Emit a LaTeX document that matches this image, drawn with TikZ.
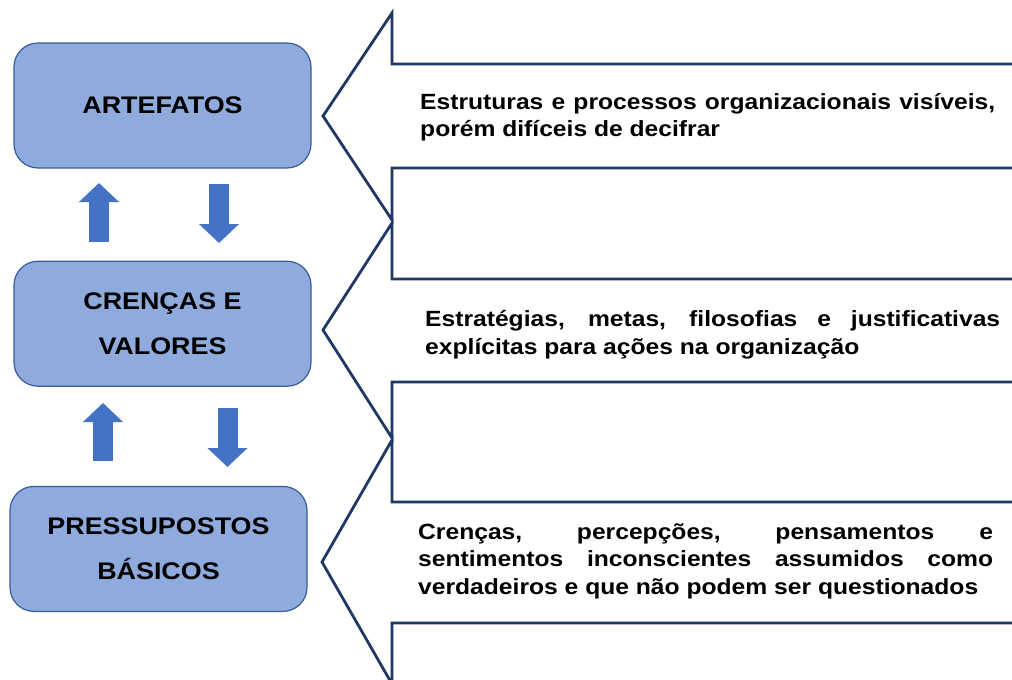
\documentclass[tikz,border=0pt]{standalone}
\usepackage{fontspec}
\setmainfont{Liberation Sans}[FakeStretch=1.12]
\usetikzlibrary{positioning,arrows.meta}
\definecolor{boxfill}{HTML}{8FAADC}
\definecolor{boxline}{HTML}{3A5C9A}
\definecolor{arrowfill}{HTML}{4472C4}
\definecolor{navy}{HTML}{1F3864}
\tikzset{
  layer/.style={draw=boxline, fill=boxfill, line width=1.2pt, rounded corners=24pt,
    minimum width=297pt, minimum height=125pt, align=center,
    font=\fontsize{24}{45}\selectfont\bfseries},
  fat/.style={arrowfill, line width=20pt, -{Triangle[width=39pt,length=19pt]}},
  callout/.style={draw=navy, line width=2.8pt, line join=miter},
  desc/.style={text width=575pt, align=justify, inner sep=0pt, anchor=west,
    font=\fontsize{22}{27.5}\selectfont\bfseries}
}
\begin{document}
\begin{tikzpicture}[x=1pt,y=-1pt]
	\clip (0,0) rectangle (1012,680);
	\fill[white] (0,0) rectangle (1012,680);
	% levels
	\node[layer] (art) at (162.5,105.5) {ARTEFATOS};
	\node[layer, below=92pt of art] (cre) {CRENÇAS E\\VALORES};
	\node[layer, below=99pt of cre, xshift=-4pt] (pre) {PRESSUPOSTOS\\BÁSICOS};
	% block arrows
	\coordinate (up1a) at (99,242);
	\coordinate (up1b) at (99,183);
	\coordinate (dn1a) at (219,184);
	\coordinate (dn1b) at (219,243);
	\coordinate (up2a) at (103,461);
	\coordinate (up2b) at (103,403);
	\coordinate (dn2a) at (227.5,408);
	\coordinate (dn2b) at (227.5,467);
	\draw[fat] (up1a) -- (up1b);
	\draw[fat] (dn1a) -- (dn1b);
	\draw[fat] (up2a) -- (up2b);
	\draw[fat] (dn2a) -- (dn2b);
	% callouts
	\draw[callout] (1030,64) -- (392,64) -- (392,13) -- (323,116) -- (392,220) -- (392,168) -- (1030,168);
	\draw[callout] (1030,279) -- (392,279) -- (392,223) -- (323,330) -- (392,438) -- (392,382) -- (1030,382);
	\draw[callout] (1030,502) -- (392,502) -- (392,440) -- (322,562) -- (392,684) -- (392,623) -- (1030,623);
	% descriptions
	\node[desc] (artdesc) at (420,117) {Estruturas e processos organizacionais visíveis,\linebreak porém difíceis de decifrar};
	\node[desc] (credesc) at (425,335) {Estratégias, metas, filosofias e justificativas\linebreak explícitas para ações na organização};
	\node[desc] (predesc) at (418,561) {Crenças, percepções, pensamentos e\linebreak sentimentos inconscientes assumidos como\linebreak verdadeiros e que não podem ser questionados};
\end{tikzpicture}
\end{document}
